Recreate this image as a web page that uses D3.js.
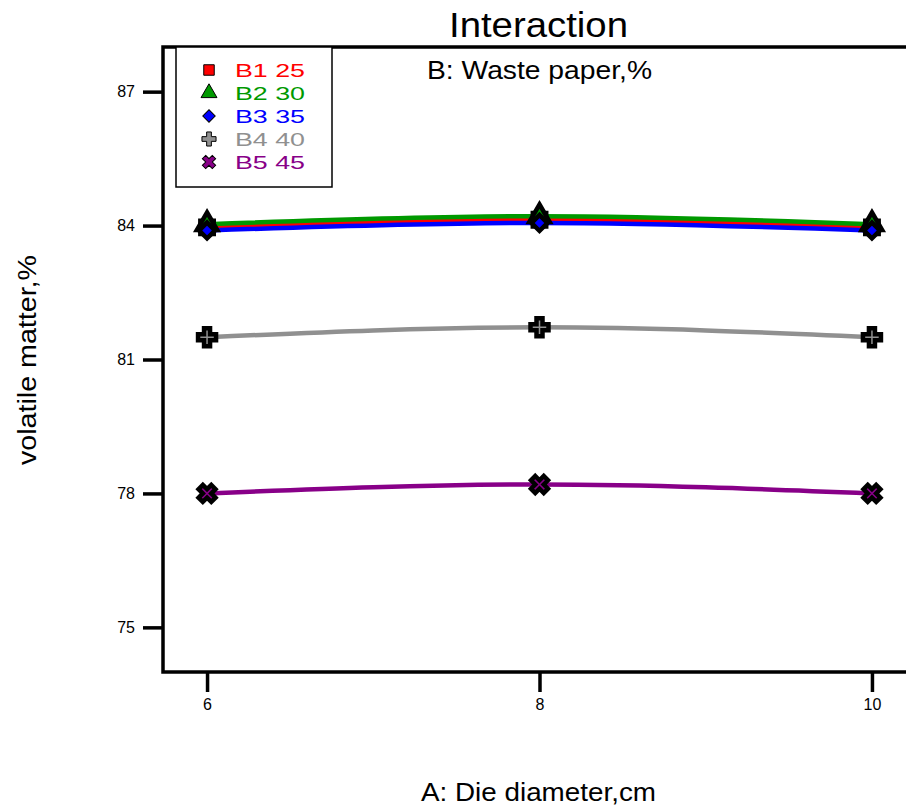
<!DOCTYPE html>
<html><head><meta charset="utf-8">
<script src="https://cdn.jsdelivr.net/npm/d3@7/dist/d3.min.js"></script>
<style>body{margin:0;background:#fff;} svg{display:block;font-family:"Liberation Sans",Arial,sans-serif;}</style>
</head><body>
<script>
const xValues = [6, 8, 10];
const xTicks = [6, 8, 10];
const yTicks = [75, 78, 81, 84, 87];
const seriesNames = ["B1 25", "B2 30", "B3 35", "B4 40", "B5 45"];
const seriesColors = ["#ff0000", "#009900", "#0000ff", "#909090", "#880088"];
const b1 = [83.96, 84.13, 83.96];
const b2 = [84.03, 84.21, 84.03];
const b3 = [83.89, 84.06, 83.89];
const b4 = [81.50, 81.72, 81.50];
const b5 = [78.00, 78.20, 78.00];
const seriesValues = [b1, b2, b3, b4, b5];
const symbols = [d3.symbolSquare, d3.symbolTriangle, d3.symbolSquare, d3.symbolCross, d3.symbolCross];
const rotations = [0, 0, 45, 0, 45];

(function () {
const W = 906, H = 805;
const svg = d3.select("body").append("svg").attr("width", W).attr("height", H);
const pLeft = 163, pTop = 47, pBottom = 672, pRight = 916;
const x = d3.scaleLinear().domain([5.735, 10.265]).range([pLeft, pRight]);
const y = d3.scaleLinear().domain([74, 88]).range([pBottom, pTop]);

// frame
svg.append("rect").attr("x", pLeft).attr("y", pTop).attr("width", pRight - pLeft).attr("height", pBottom - pTop)
  .attr("fill", "none").attr("stroke", "#000").attr("stroke-width", 3.5);

// axes
const yAxis = svg.append("g").attr("transform", `translate(${pLeft},0)`)
  .call(d3.axisLeft(y).tickValues(yTicks).tickSize(20).tickPadding(8).tickFormat(d3.format("d")));
const xAxis = svg.append("g").attr("transform", `translate(0,${pBottom})`)
  .call(d3.axisBottom(x).tickValues(xTicks).tickSize(20).tickPadding(7).tickFormat(d3.format("d")));
[yAxis, xAxis].forEach(g => {
  g.attr("font-size", null);
  g.select(".domain").remove();
  g.selectAll(".tick line").attr("stroke", "#000").attr("stroke-width", 3.5);
  g.selectAll(".tick text").attr("fill", "#000").style("font-size", "16px");
});

// lines
const line = d3.line().x((d, i) => x(xValues[i])).y(d => y(d)).curve(d3.curveNatural);
seriesValues.forEach((vals, k) => {
  svg.append("path").datum(vals).attr("d", line).attr("fill", "none")
    .attr("stroke", seriesColors[k]).attr("stroke-width", 4.5);
});

// markers
function marker(g, k, cx, cy, size, sw) {
  const sym = d3.symbol().type(symbols[k]).size(k === 2 ? size * 0.7 : size);
  return g.append("path").attr("d", sym()).attr("fill", seriesColors[k])
    .attr("stroke", "#000").attr("stroke-width", sw)
    .attr("transform", `translate(${cx},${cy}) rotate(${rotations[k]})`);
}
seriesValues.forEach((vals, k) => {
  vals.forEach((v, i) => marker(svg, k, x(xValues[i]), y(v), 180, 4.5));
});

// legend
svg.append("rect").attr("x", 176).attr("y", 47).attr("width", 156).attr("height", 140)
  .attr("fill", "#fff").attr("stroke", "#000").attr("stroke-width", 1.5);
seriesNames.forEach((name, k) => {
  const ly = 70 + k * 23;
  marker(svg, k, 209, ly, 110, 1);
  svg.append("text").attr("x", 235).attr("y", ly + 7).text(name)
    .attr("fill", seriesColors[k]).style("font-size", "18px")
    .attr("textLength", 70).attr("lengthAdjust", "spacingAndGlyphs");
});

// titles
svg.append("text").attr("x", 449).attr("y", 37)
  .style("font-size", "35px").attr("textLength", 179).attr("lengthAdjust", "spacingAndGlyphs").text("Interaction");
svg.append("text").attr("x", 427).attr("y", 79)
  .style("font-size", "25px").attr("textLength", 225).attr("lengthAdjust", "spacingAndGlyphs").text("B: Waste paper,%");
svg.append("text").attr("x", 421).attr("y", 801)
  .style("font-size", "25px").attr("textLength", 235).attr("lengthAdjust", "spacingAndGlyphs").text("A: Die diameter,cm");
svg.append("text").attr("transform", "translate(36,465) rotate(-90)")
  .style("font-size", "25px").attr("textLength", 210).attr("lengthAdjust", "spacingAndGlyphs").text("volatile matter,%");
})();
</script>
</body></html>
